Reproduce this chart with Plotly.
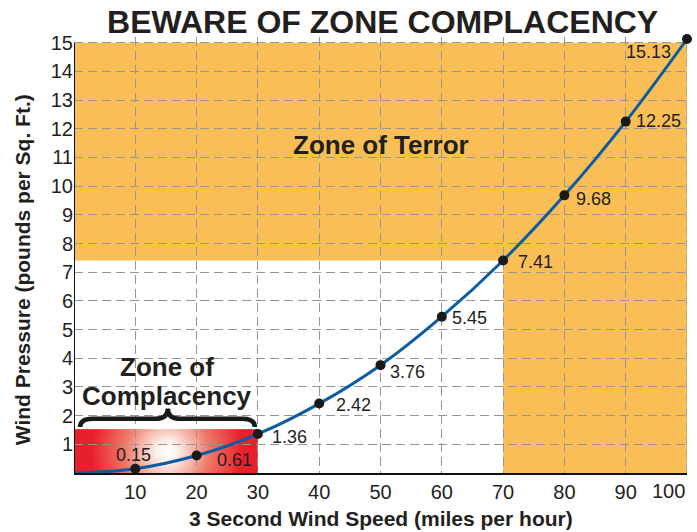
import base64
import plotly.graph_objects as go

# ---- data ----
speed = [10, 20, 30, 40, 50, 60, 70, 80, 90, 100]
pressure = [0.15, 0.61, 1.36, 2.42, 3.76, 5.45, 7.41, 9.68, 12.25, 15.13]
labels = ["0.15", "0.61", "1.36", "2.42", "3.76", "5.45", "7.41", "9.68", "12.25", "15.13"]
curve_x = [0] + speed
curve_y = [0] + pressure
x_ticks = [10, 20, 30, 40, 50, 60, 70, 80, 90, 100]
x_ticktext = ["10", "20", "30", "40", "50", "60", "70", "80", "90", "100"]
y_ticks = list(range(1, 16))
terror_level = 7.41
terror_x = 70
complacency_x = 30
complacency_level = 1.53

# label offsets in px (style)
label_shift = [(-2, 14), (38, -4), (32, -3), (34, -1), (27, -7),
               (28, -1), (32, -2), (29, -4), (33, 1), (-39, -13)]

FONT = "Liberation Sans, Arial, Helvetica, sans-serif"
TXT = "#231F20"
ORANGE = "#F9BE55"
BLUE = "#0B5CA0"
GRID = "#969696"
GDASH = "9px,5px"

svg = ("<svg xmlns='http://www.w3.org/2000/svg' width='184' height='44' viewBox='0 0 184 44' "
       "preserveAspectRatio='none'><defs><radialGradient id='g' gradientUnits='userSpaceOnUse' "
       "cx='93' cy='23' r='76'><stop offset='0' stop-color='#ffffff'/>"
       "<stop offset='0.15' stop-color='#fdeee8'/><stop offset='0.55' stop-color='#f07a6a'/>"
       "<stop offset='1' stop-color='#e8202a'/></radialGradient></defs>"
       "<rect width='184' height='44' fill='url(#g)'/></svg>")
svg_uri = "data:image/svg+xml;base64," + base64.b64encode(svg.encode()).decode()

fig = go.Figure()
fig.add_trace(go.Scatter(x=curve_x, y=curve_y, mode="lines", line=dict(color=BLUE, width=3, shape="spline"),
                         hoverinfo="skip", cliponaxis=False))
fig.add_trace(go.Scatter(x=speed, y=pressure, mode="markers", marker=dict(color="#1a1a1a", size=10),
                         cliponaxis=False))

ymax = 15
fig.add_shape(type="path",
              path=f"M 0,{terror_level} L {terror_x},{terror_level} L {terror_x},0 L 100,0 L 100,{ymax} L 0,{ymax} Z",
              fillcolor=ORANGE, line=dict(width=0), layer="below", xref="x", yref="y")

fig.add_layout_image(dict(source=svg_uri, xref="x", yref="y", x=0, y=complacency_level,
                          sizex=complacency_x, sizey=complacency_level, sizing="stretch",
                          xanchor="left", yanchor="top", layer="below"))

# right-edge grid line and y axis line (axis stops at 15)
fig.add_shape(type="line", x0=100, x1=100, y0=0, y1=ymax, xref="x", yref="y",
              line=dict(color=GRID, width=1.3, dash=GDASH), layer="below")
fig.add_shape(type="line", x0=0, x1=0, y0=0, y1=ymax, xref="x", yref="y",
              line=dict(color="#111111", width=2), layer="above")

# brace
brace = ("M 1.0,1.6 Q 1.0,1.89 3.0,1.89 L 13.3,1.89 Q 15.3,1.89 15.3,2.25 "
         "Q 15.3,1.89 17.3,1.89 L 27.5,1.89 Q 29.5,1.89 29.5,1.6")
fig.add_shape(type="path", path=brace, line=dict(color="#1a1a1a", width=4.5), xref="x", yref="y")

for xv, yv, t, (dx, dy) in zip(speed, pressure, labels, label_shift):
    fig.add_annotation(x=xv, y=yv, text=t, showarrow=False, xshift=dx, yshift=dy,
                       font=dict(family=FONT, size=18, color=TXT), xanchor="center", yanchor="middle")

fig.add_annotation(x=50, y=11.43, text="<b>Zone of Terror</b>", showarrow=False,
                   font=dict(family=FONT, size=26, color=TXT))
fig.add_annotation(x=15.2, y=3.69, text="<b>Zone of</b>", showarrow=False,
                   font=dict(family=FONT, size=26, color=TXT))
fig.add_annotation(x=15.2, y=2.7, text="<b>Complacency</b>", showarrow=False,
                   font=dict(family=FONT, size=26, color=TXT))

# last x tick label kept inside the figure
fig.add_annotation(x=x_ticks[-1], xref="x", yref="paper", y=0, yshift=-5, xanchor="right", yanchor="top",
                   text=x_ticktext[-1], showarrow=False, font=dict(family=FONT, size=20, color=TXT))

fig.add_annotation(xref="paper", yref="paper", x=0.5, y=0, yshift=-45, yanchor="middle",
                   text="<b>3 Second Wind Speed (miles per hour)</b>", showarrow=False,
                   font=dict(family=FONT, size=21, color=TXT))
fig.add_annotation(xref="paper", yref="paper", x=0, xshift=-52, y=0.465, textangle=-90,
                   xanchor="center", yanchor="middle",
                   text="<b>Wind Pressure (pounds per Sq. Ft.)</b>", showarrow=False,
                   font=dict(family=FONT, size=21, color=TXT))

fig.update_layout(
    width=697, height=532,
    margin=dict(l=74, r=10, t=37, b=59, autoexpand=False),
    paper_bgcolor="white", plot_bgcolor="white",
    showlegend=False,
    title=dict(text="<b>BEWARE OF ZONE COMPLACENCY</b>", x=0.549, xanchor="center",
               y=1 - 22 / 532, yanchor="middle", yref="container",
               font=dict(family=FONT, size=32, color=TXT)),
)
fig.update_xaxes(range=[0, 100], tickvals=x_ticks, ticktext=x_ticktext[:-1] + [""],
                 showgrid=True, gridcolor=GRID, griddash=GDASH, gridwidth=1.3,
                 showline=True, linecolor="#111111", linewidth=2, ticks="",
                 zeroline=False, automargin=False, tickfont=dict(family=FONT, size=20, color=TXT))
fig.update_yaxes(range=[0, 15.2], tickvals=y_ticks, ticktext=[str(v) for v in y_ticks],
                 showgrid=True, gridcolor=GRID, griddash=GDASH, gridwidth=1.3,
                 showline=False, ticks="",
                 zeroline=False, automargin=False, tickfont=dict(family=FONT, size=20, color=TXT))

fig.write_html("out.html", config={"displayModeBar": False, "responsive": False},
               post_script="document.body.style.margin='0';document.body.style.overflow='hidden';")
